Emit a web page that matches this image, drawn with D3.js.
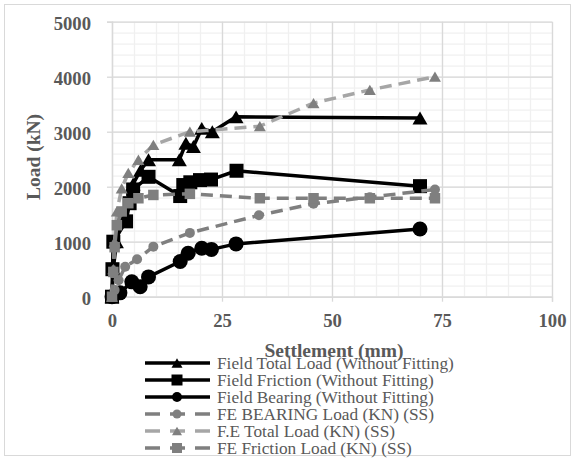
<!DOCTYPE html>
<html><head><meta charset="utf-8">
<script src="https://cdn.jsdelivr.net/npm/d3@7/dist/d3.min.js"></script>
<style>html,body{margin:0;padding:0;background:#fff;}svg{display:block;}</style>
</head><body>
<svg id="chart" width="575" height="459"></svg>
<script>
// ---- data ----
const seriesNames = [
  "Field Total Load (Without Fitting)",
  "Field Friction (Without Fitting)",
  "Field Bearing (Without Fitting)",
  "FE BEARING Load (KN) (SS)",
  "F.E Total Load (KN) (SS)",
  "FE Friction Load (KN) (SS)"
];
const fieldTotalX = [0, 0.3, 1, 2.5, 4.8, 6.5, 8.3, 15.3, 16.8, 18.5, 20.4, 22.8, 28.2, 70];
const fieldTotalY = [0, 500, 1000, 1500, 2050, 2300, 2490, 2490, 2790, 2730, 3060, 3000, 3270, 3250];
const fieldFrictionX = [0, 0.1, 0.3, 3.2, 4, 4.8, 8.3, 15.5, 16.2, 17.8, 20, 22.5, 28.3, 70];
const fieldFrictionY = [0, 500, 1000, 1370, 1700, 1950, 2180, 1830, 2030, 2080, 2120, 2130, 2290, 2010];
const fieldBearingX = [0, 1.8, 4.5, 6.4, 8.3, 15.5, 17.3, 20.4, 22.6, 28.2, 70];
const fieldBearingY = [0, 70, 270, 180, 360, 640, 790, 880, 860, 960, 1230];
const feBearingX = [0, 0.6, 1.5, 3, 5.7, 9.4, 17.7, 33.4, 45.8, 58.6, 73.4];
const feBearingY = [0, 120, 300, 545, 680, 910, 1160, 1480, 1690, 1810, 1950];
const feTotalX = [0, 0.3, 0.6, 1.1, 2.2, 3.7, 6, 9.4, 17.7, 33.6, 45.8, 58.6, 73.4];
const feTotalY = [0, 500, 1000, 1550, 1970, 2250, 2490, 2760, 3000, 3100, 3520, 3760, 4000];
const feFrictionX = [0, 0.3, 0.6, 1.1, 2.2, 3.7, 6, 9.4, 17.7, 33.6, 45.8, 58.6, 73.4];
const feFrictionY = [0, 450, 900, 1300, 1550, 1700, 1790, 1850, 1870, 1790, 1790, 1790, 1790];
const xTicks = [0, 25, 50, 75, 100];
const yTicks = [0, 1000, 2000, 3000, 4000, 5000];
const xTitle = "Settlement (mm)";
const yTitle = "Load (kN)";

// ---- styles ----
const styles = [
  {line:"#000", marker:"#000", shape:"tri", size:15, dash:null, lw:3.5, lsize:11},
  {line:"#000", marker:"#000", shape:"sq", size:14, dash:null, lw:3.5, lsize:11},
  {line:"#000", marker:"#000", shape:"circ", size:15, dash:null, lw:3.5, lsize:10},
  {line:"#7f7f7f", marker:"#7f7f7f", shape:"circ", size:10, dash:"12,7", lw:3.5, lsize:9},
  {line:"#a6a6a6", marker:"#7f7f7f", shape:"tri", size:12, dash:"12,7", lw:3.5, lsize:10},
  {line:"#7f7f7f", marker:"#7f7f7f", shape:"sq", size:10.5, dash:"12,7", lw:3.5, lsize:10}
];
const seriesX = [fieldTotalX, fieldFrictionX, fieldBearingX, feBearingX, feTotalX, feFrictionX];
const seriesY = [fieldTotalY, fieldFrictionY, fieldBearingY, feBearingY, feTotalY, feFrictionY];

const svg = d3.select("#chart");
const L = 112, R = 552, T = 21.7, B = 296.7;
const x = d3.scaleLinear().domain([0, 100]).range([L, R]);
const y = d3.scaleLinear().domain([0, 5000]).range([B, T]);
const serif = "'Liberation Serif','Times New Roman',serif";
const textCol = "#595959";

svg.append("rect").attr("x",0).attr("y",0).attr("width",575).attr("height",459).attr("fill","#fff");
svg.append("rect").attr("x",4.5).attr("y",4.5).attr("width",566).attr("height",451)
  .attr("fill","none").attr("stroke","#d9d9d9").attr("stroke-width",1);

// minor grid
const minorX = d3.range(0, 101, 5), minorY = d3.range(0, 5001, 200);
svg.append("g").attr("transform",`translate(0,${B})`)
  .call(d3.axisBottom(x).tickValues(minorX).tickSize(-(B-T)).tickFormat(""))
  .call(g=>{g.select(".domain").remove(); g.selectAll("line").attr("stroke","#f0f0f0").attr("stroke-width",1.3);});
svg.append("g").attr("transform",`translate(${L},0)`)
  .call(d3.axisLeft(y).tickValues(minorY).tickSize(-(R-L)).tickFormat(""))
  .call(g=>{g.select(".domain").remove(); g.selectAll("line").attr("stroke","#f0f0f0").attr("stroke-width",1.3);});
// major grid
svg.append("g").attr("transform",`translate(0,${B})`)
  .call(d3.axisBottom(x).tickValues(xTicks).tickSize(-(B-T)).tickFormat(""))
  .call(g=>{g.select(".domain").remove(); g.selectAll("line").attr("stroke","#d9d9d9").attr("stroke-width",1.3);});
svg.append("g").attr("transform",`translate(${L},0)`)
  .call(d3.axisLeft(y).tickValues(yTicks).tickSize(-(R-L)).tickFormat(""))
  .call(g=>{g.select(".domain").remove(); g.selectAll("line").attr("stroke","#d9d9d9").attr("stroke-width",1.3);});

// axes with labels
const xa = svg.append("g").attr("transform",`translate(0,${B})`)
  .call(d3.axisBottom(x).tickValues(xTicks).tickSize(5).tickFormat(d3.format("d")));
xa.select(".domain").attr("stroke","#d9d9d9").attr("stroke-width",1.3);
xa.selectAll("line").attr("stroke","#d9d9d9").attr("stroke-width",1.3);
xa.selectAll("text").attr("dy",null).attr("y",30).attr("fill",textCol)
  .attr("font-family",serif).attr("font-size","18.7px").attr("font-weight","bold");

const ya = svg.append("g").attr("transform",`translate(${L},0)`)
  .call(d3.axisLeft(y).tickValues(yTicks).tickSize(5).tickPadding(16).tickFormat(d3.format("d")));
ya.select(".domain").attr("stroke","#d9d9d9").attr("stroke-width",1.3);
ya.selectAll("line").attr("stroke","#d9d9d9").attr("stroke-width",1.3);
ya.selectAll("text").attr("dy",null).attr("y",7.5).attr("fill",textCol)
  .attr("font-family",serif).attr("font-size","18.7px").attr("font-weight","bold");

// markers
function markerPath(shape, s) {
  if (shape === "tri") { const h = s*0.86; return `M0,${-h/2}L${s/2},${h/2}L${-s/2},${h/2}Z`; }
  if (shape === "sq") return `M${-s/2},${-s/2}h${s}v${s}h${-s}Z`;
  return d3.symbol().type(d3.symbolCircle).size(Math.PI*s*s/4)();
}

const line = d3.line().x(d=>x(d[0])).y(d=>y(d[1]));
seriesX.forEach((xs, i) => {
  const st = styles[i];
  const pts = xs.map((v, j) => [v, seriesY[i][j]]);
  const g = svg.append("g");
  g.append("path").datum(pts).attr("d", line).attr("fill","none")
    .attr("stroke", st.line).attr("stroke-width", st.lw)
    .attr("stroke-dasharray", st.dash).attr("stroke-linejoin","round");
  g.selectAll("path.m").data(pts).enter().append("path").attr("class","m")
    .attr("d", markerPath(st.shape, st.size))
    .attr("transform", d=>`translate(${x(d[0])},${y(d[1])})`)
    .attr("fill", st.marker);
});

// axis titles
svg.append("text").attr("transform","translate(40,157) rotate(-90)").attr("text-anchor","middle")
  .attr("font-family",serif).attr("font-size","19.5px").attr("font-weight","bold").attr("fill",textCol)
  .text(yTitle);
svg.append("text").attr("x",334).attr("y",357).attr("text-anchor","middle")
  .attr("font-family",serif).attr("font-size","19.5px").attr("font-weight","bold").attr("fill",textCol)
  .text(xTitle);

// legend
const legY0 = 363, legDY = 17;
seriesNames.forEach((name, i) => {
  const st = styles[i];
  const cy = legY0 + i*legDY;
  const g = svg.append("g");
  g.append("line").attr("x1",145).attr("x2",210).attr("y1",cy).attr("y2",cy)
    .attr("stroke", st.line).attr("stroke-width", st.lw).attr("stroke-dasharray", st.dash ? "15,10" : null);
  g.append("path").attr("d", markerPath(st.shape, st.lsize)).attr("transform",`translate(177,${cy})`).attr("fill", st.marker);
  g.append("text").attr("x",217).attr("y",cy+5.5).attr("font-family",serif).attr("font-size","17.3px")
    .attr("fill",textCol).text(name);
});
</script>
</body></html>
